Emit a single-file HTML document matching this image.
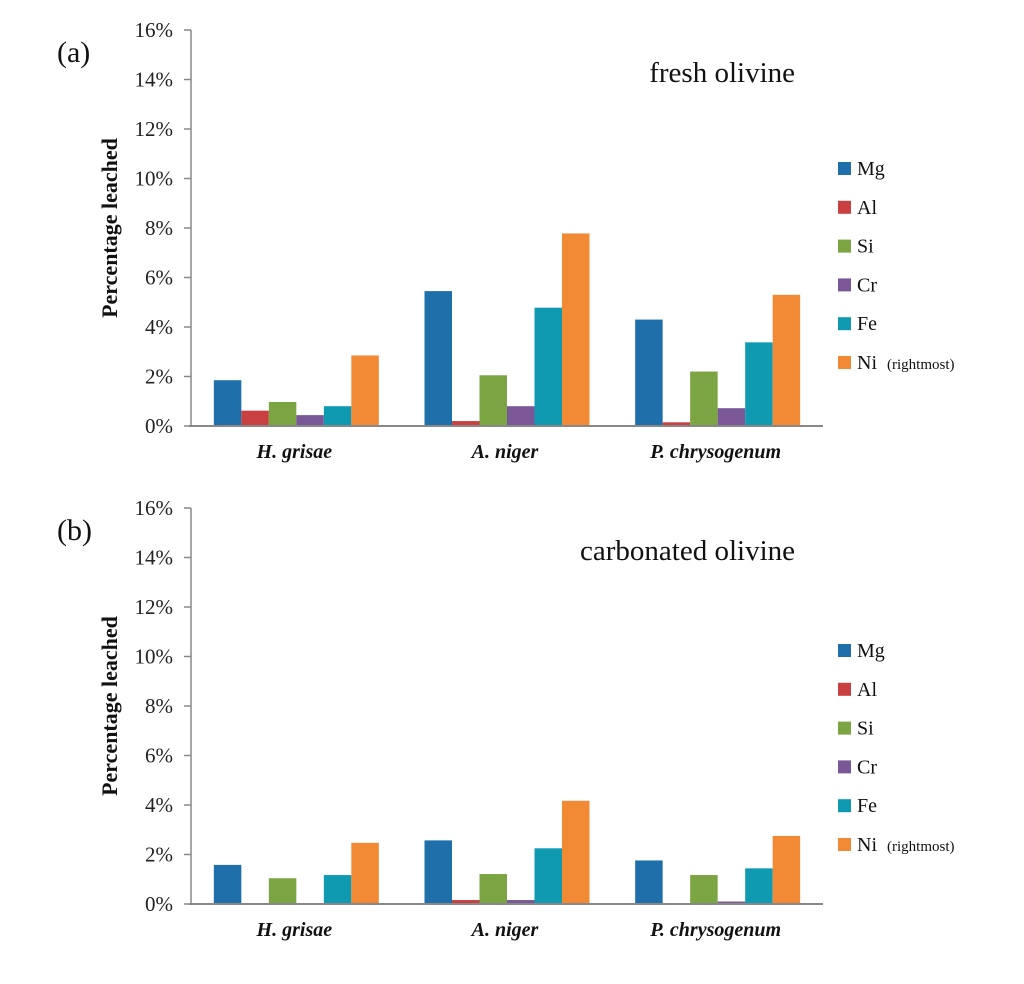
<!DOCTYPE html>
<html><head><meta charset="utf-8"><style>
body{margin:0;background:#fff;}
svg text{font-family:"Liberation Serif",serif;}
</style></head><body>
<svg id="svg" width="1024" height="979" xmlns="http://www.w3.org/2000/svg"></svg>
<script>
const categories=["H. grisae","A. niger","P. chrysogenum"];
const series=["Mg","Al","Si","Cr","Fe","Ni"];
const colors=["#1f6fab","#c94040","#7ba442","#7a5897","#0f9ab2","#f28a35"];
const freshMg=[1.85,5.45,4.3];
const freshAl=[0.62,0.2,0.15];
const freshSi=[0.97,2.05,2.2];
const freshCr=[0.44,0.8,0.72];
const freshFe=[0.8,4.78,3.38];
const freshNi=[2.85,7.78,5.3];
const carbMg=[1.58,2.57,1.76];
const carbAl=[0,0.16,0];
const carbSi=[1.04,1.21,1.17];
const carbCr=[0,0.16,0.1];
const carbFe=[1.17,2.25,1.44];
const carbNi=[2.47,4.17,2.75];
const yTicks=[0,2,4,6,8,10,12,14,16];

const svg=document.getElementById('svg');
const NS="http://www.w3.org/2000/svg";
function el(tag,attrs,parent){const e=document.createElementNS(NS,tag);for(const k in attrs)e.setAttribute(k,attrs[k]);(parent||svg).appendChild(e);return e;}

function drawChart(id,y0,data,label,title,legendY){
  const g=el('g',{});
  
  
  const x0=191,x1=823,yTop=y0-396;
  const ys=v=>y0-v/16*396;
  const catW=(x1-x0)/categories.length;
  const bw=27.5;
  yTicks.forEach(t=>{
    const tx=el('text',{x:173,y:ys(t)+7,'text-anchor':'end','font-size':21,fill:'#222'},g);
    tx.textContent=t+'%';
    
    
    const tk=el('line',{x1:184,y1:ys(t),x2:x0,y2:ys(t),stroke:'#888','stroke-width':1.5},g);
    
    
  });
  data.forEach((arr,si)=>{
    arr.forEach((v,ci)=>{
      const cx=x0+catW*(ci+0.5);
      const bx=cx-3*bw+si*bw;
      const r=el('rect',{x:bx,y:ys(v),width:bw,height:y0-ys(v),fill:colors[si]},g);
      
      
    });
  });
  const ya=el('line',{x1:x0,y1:yTop,x2:x0,y2:y0,stroke:'#888','stroke-width':1.5},g);
  
  
  const xa=el('line',{x1:x0-2,y1:y0,x2:x1,y2:y0,stroke:'#888','stroke-width':2},g);
  
  
  categories.forEach((c,ci)=>{
    const t=el('text',{x:x0+catW*(ci+0.5)-2,y:y0+32,'text-anchor':'middle','font-size':20,'font-weight':'bold','font-style':'italic',fill:'#111'},g);
    t.textContent=c;
    
    
  });
  const yt=el('text',{x:0,y:0,transform:`translate(117,${y0-198}) rotate(-90)`,'text-anchor':'middle','font-size':22,'font-weight':'bold',fill:'#111'},g);
  yt.textContent='Percentage leached';
  
  
  const pl=el('text',{x:57,y:yTop+32,'font-size':30,fill:'#111'},g);
  pl.textContent=label;
  
  
  const ti=el('text',{x:795,y:yTop+52,'text-anchor':'end','font-size':29,fill:'#111'},g);
  ti.textContent=title;
  
  
  series.forEach((s,si)=>{
    const ly=legendY+si*38.8;
    const r=el('rect',{x:838,y:ly-6,width:13,height:13,fill:colors[si]},g);
    
    
    const t=el('text',{x:857,y:ly+7,'font-size':20,fill:'#111'},g);
    t.textContent=s;
    
    
    if(s==='Ni'){
      const t2=el('text',{x:887,y:ly+7,'font-size':15,fill:'#111'},g);
      t2.textContent='(rightmost)';
      
      
    }
  });
}
drawChart('chart-fresh',426,[freshMg,freshAl,freshSi,freshCr,freshFe,freshNi],'(a)','fresh olivine',168);
drawChart('chart-carbonated',904,[carbMg,carbAl,carbSi,carbCr,carbFe,carbNi],'(b)','carbonated olivine',650);
</script>
</body></html>
